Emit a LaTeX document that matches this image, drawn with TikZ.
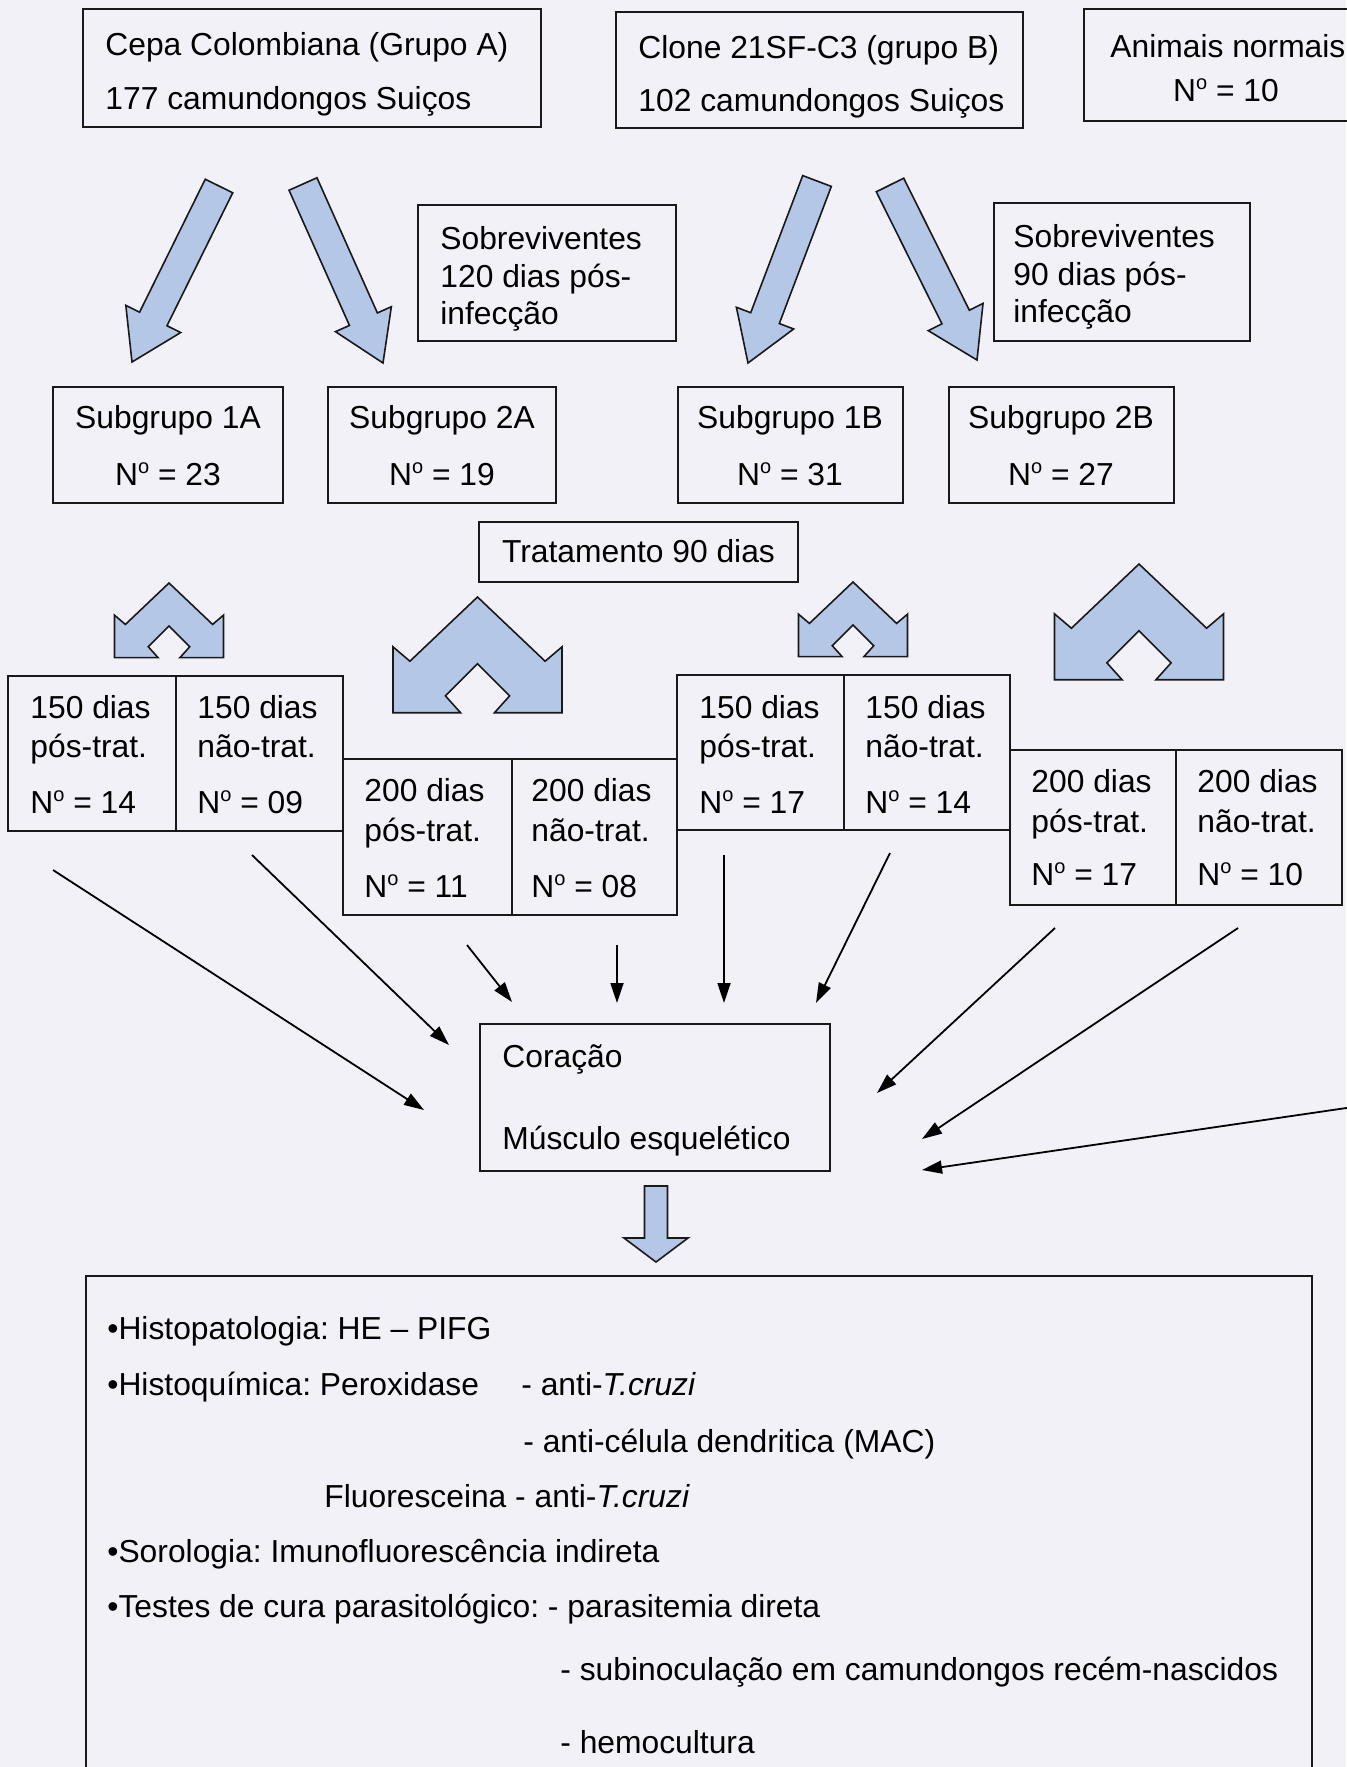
\documentclass[tikz,border=0pt]{standalone}
\usepackage{fontspec}
\setmainfont{Liberation Sans}
\usetikzlibrary{arrows.meta,calc,fit}
\definecolor{bg}{RGB}{242,241,248}
\definecolor{arrowblue}{RGB}{180,199,231}
\definecolor{edge}{RGB}{25,25,25}
\newcommand\No{N\raisebox{6pt}{\fontsize{10}{10}\selectfont o}}
\frenchspacing
\tikzset{
  boxst/.style={draw=edge, line width=1pt, inner sep=0pt},
  txt/.style={inner sep=0pt, text height=11.3pt, text depth=3.3pt,
    font=\fontsize{15.9}{19}\selectfont, anchor=west},
  ctxt/.style={txt, anchor=center},
  blockst/.style={draw=edge, fill=arrowblue, line width=0.8pt, line join=miter},
  feed/.style={draw=black, line width=0.9pt, -{Triangle[length=10pt,width=6.5pt]}},
}
\newcommand\blockarrow[5]{%
  \coordinate (#1base) at ($(#2)!#5!(#1)$);
  \draw[blockst] ($(#1)!#3!90:(#2)$) -- ($(#1base)!#3!90:(#2)$) -- ($(#1base)!#4!90:(#2)$)
    -- (#2) -- ($(#1base)!#4!-90:(#2)$) -- ($(#1base)!#3!-90:(#2)$) -- ($(#1)!#3!-90:(#2)$) -- cycle;}
\newcommand\chev[3]{%
  \begin{scope}[shift={(#1,#2)}, x=#3, y=-#3]
  \draw[blockst] (0,0) -- (0.8,0.76) -- (1,0.59) -- (1,1.37) -- (0.2,1.37) -- (0.38,1.17)
    -- (0,0.79) -- (-0.38,1.17) -- (-0.2,1.37) -- (-1,1.37) -- (-1,0.59) -- (-0.8,0.76) -- cycle;
  \end{scope}}
\begin{document}
\begin{tikzpicture}[x=0.5pt,y=-0.5pt]
\fill[bg] (0,0) rectangle (1346,1767);
\useasboundingbox (0,0) rectangle (1346,1767);

% top boxes
\node[boxst, fit={(83,9) (541,127)}] (gA) {};
\node[boxst, fit={(616,12) (1023,128)}] (gB) {};
\node[boxst, fit={(1084,9) (1380,121)}] (gC) {};
\node[txt] (tA1) at (105,47) {Cepa Colombiana (Grupo A)};
\node[txt] (tA2) at (105,101) {177 camundongos Suiços};
\node[txt] (tB1) at (638,50) {Clone 21SF-C3 (grupo B)};
\node[txt] (tB2) at (638,103) {102 camundongos Suiços};
\node[txt] (tC1) at (1110,49) {Animais normais};
\node[ctxt] (tC2) at (1226,93) {\No{} = 10};

% survivors
\node[boxst, fit={(418,205) (676,341)}] (sA) {};
\node[txt] (sA1) at (440,241) {Sobreviventes};
\node[txt] (sA2) at (440,279) {120 dias pós-};
\node[txt] (sA3) at (440,316) {infecção};
\node[boxst, fit={(994,203) (1250,341)}] (sB) {};
\node[txt] (sB1) at (1013,239) {Sobreviventes};
\node[txt] (sB2) at (1013,277) {90 dias pós-};
\node[txt] (sB3) at (1013,314) {infecção};

% block arrows
\coordinate (b1t) at (219,186); \coordinate (b1h) at (132,362);
\coordinate (b2t) at (303,184); \coordinate (b2h) at (383,363);
\coordinate (b3t) at (817,181); \coordinate (b3h) at (748,363);
\coordinate (b4t) at (890,185); \coordinate (b4h) at (977,360);
\blockarrow{b1t}{b1h}{7.65pt}{15.3pt}{24pt}
\blockarrow{b2t}{b2h}{7.65pt}{15.3pt}{24pt}
\blockarrow{b3t}{b3h}{7.65pt}{15.3pt}{24pt}
\blockarrow{b4t}{b4h}{7.65pt}{15.3pt}{24pt}

% subgroups
\node[boxst, fit={(53,387) (283,503)}] (s1A) {};
\node[boxst, fit={(328,387) (556,503)}] (s2A) {};
\node[boxst, fit={(678,387) (903,503)}] (s1B) {};
\node[boxst, fit={(949,387) (1174,503)}] (s2B) {};
\node[ctxt] (s1At) at (168,420) {Subgrupo 1A};
\node[ctxt] (s1An) at (168,477) {\No{} = 23};
\node[ctxt] (s2At) at (442,420) {Subgrupo 2A};
\node[ctxt] (s2An) at (442,477) {\No{} = 19};
\node[ctxt] (s1Bt) at (790,420) {Subgrupo 1B};
\node[ctxt] (s1Bn) at (790,477) {\No{} = 31};
\node[ctxt] (s2Bt) at (1061,420) {Subgrupo 2B};
\node[ctxt] (s2Bn) at (1061,477) {\No{} = 27};

% treatment
\node[boxst, fit={(479,522) (798,582)}] (trat) {};
\node[ctxt] (tratt) at (638.5,554) {Tratamento 90 dias};

% chevrons
\chev{169}{583}{27.25pt}
\chev{477.5}{597}{42.25pt}
\chev{853}{582}{27.25pt}
\chev{1139}{564}{42.25pt}

% tables
\node[boxst, fit={(8,676) (176,831)}] (A150L) {};
\node[boxst, fit={(176,676) (343,831)}] (A150R) {};
\node[boxst, fit={(343,759) (512,915)}] (A200L) {};
\node[boxst, fit={(512,759) (677,915)}] (A200R) {};
\node[boxst, fit={(677,675) (844,830)}] (B150L) {};
\node[boxst, fit={(844,675) (1010,830)}] (B150R) {};
\node[boxst, fit={(1010,750) (1176,905)}] (B200L) {};
\node[boxst, fit={(1176,750) (1342,905)}] (B200R) {};

\node[txt] at (30,710) (a1) {150 dias};
\node[txt] at (30,749) (a2) {pós-trat.};
\node[txt] at (30,805) (a3) {\No{} = 14};
\node[txt] at (197,710) (a4) {150 dias};
\node[txt] at (197,749) (a5) {não-trat.};
\node[txt] at (197,805) (a6) {\No{} = 09};
\node[txt] at (364,793) (a7) {200 dias};
\node[txt] at (364,833) (a8) {pós-trat.};
\node[txt] at (364,889) (a9) {\No{} = 11};
\node[txt] at (531,793) (a10) {200 dias};
\node[txt] at (531,833) (a11) {não-trat.};
\node[txt] at (531,889) (a12) {\No{} = 08};

\node[txt] at (699,710) (c1) {150 dias};
\node[txt] at (699,749) (c2) {pós-trat.};
\node[txt] at (699,805) (c3) {\No{} = 17};
\node[txt] at (865,710) (c4) {150 dias};
\node[txt] at (865,749) (c5) {não-trat.};
\node[txt] at (865,805) (c6) {\No{} = 14};
\node[txt] at (1031,784) (c7) {200 dias};
\node[txt] at (1031,824) (c8) {pós-trat.};
\node[txt] at (1031,877) (c9) {\No{} = 17};
\node[txt] at (1197,784) (c10) {200 dias};
\node[txt] at (1197,824) (c11) {não-trat.};
\node[txt] at (1197,877) (c12) {\No{} = 10};

% organ box
\node[boxst, fit={(480,1024) (830,1171)}] (org) {};
\node[txt] (org1) at (502,1059) {Coração};
\node[txt] (org2) at (502,1141) {Músculo esquelético};

% thin arrows
\coordinate (f1s) at (53,870);   \coordinate (f1e) at (424,1110);
\coordinate (f2s) at (252,855);  \coordinate (f2e) at (449,1045);
\coordinate (f3s) at (467,945);  \coordinate (f3e) at (512,1002);
\coordinate (f4s) at (617,945);  \coordinate (f4e) at (617,1003);
\coordinate (f5s) at (724,855);  \coordinate (f5e) at (724,1003);
\coordinate (f6s) at (890,853);  \coordinate (f6e) at (816,1003);
\coordinate (f7s) at (1055,928); \coordinate (f7e) at (877,1093);
\coordinate (f8s) at (1238,928); \coordinate (f8e) at (922,1139);
\coordinate (f9s) at (1360,1106); \coordinate (f9e) at (922,1170);
\foreach \i in {1,...,9} { \draw[feed] (f\i s) -- (f\i e); }

% down arrow
\coordinate (dt) at (656,1186); \coordinate (dh) at (656,1262);
\blockarrow{dt}{dh}{5.75pt}{16pt}{12pt}

% results box
\node[boxst, fit={(86,1276) (1312,1800)}] (res) {};
\node[txt] (r1) at (107,1331) {•Histopatologia: HE – PIFG};
\node[txt] (r2) at (107,1387) {•Histoquímica: Peroxidase};
\node[txt] (r2b) at (521,1387) {- anti-\textit{T.cruzi}};
\node[txt] (r3) at (523,1444) {- anti-célula dendritica (MAC)};
\node[txt] (r4) at (324,1499) {Fluoresceina - anti-\textit{T.cruzi}};
\node[txt] (r5) at (107,1554) {•Sorologia: Imunofluorescência indireta};
\node[txt] (r6) at (107,1609) {•Testes de cura parasitológico: - parasitemia direta};
\node[txt] (r7) at (560,1672) {- subinoculação em camundongos recém-nascidos};
\node[txt] (r8) at (560,1745) {- hemocultura};
\end{tikzpicture}
\end{document}
